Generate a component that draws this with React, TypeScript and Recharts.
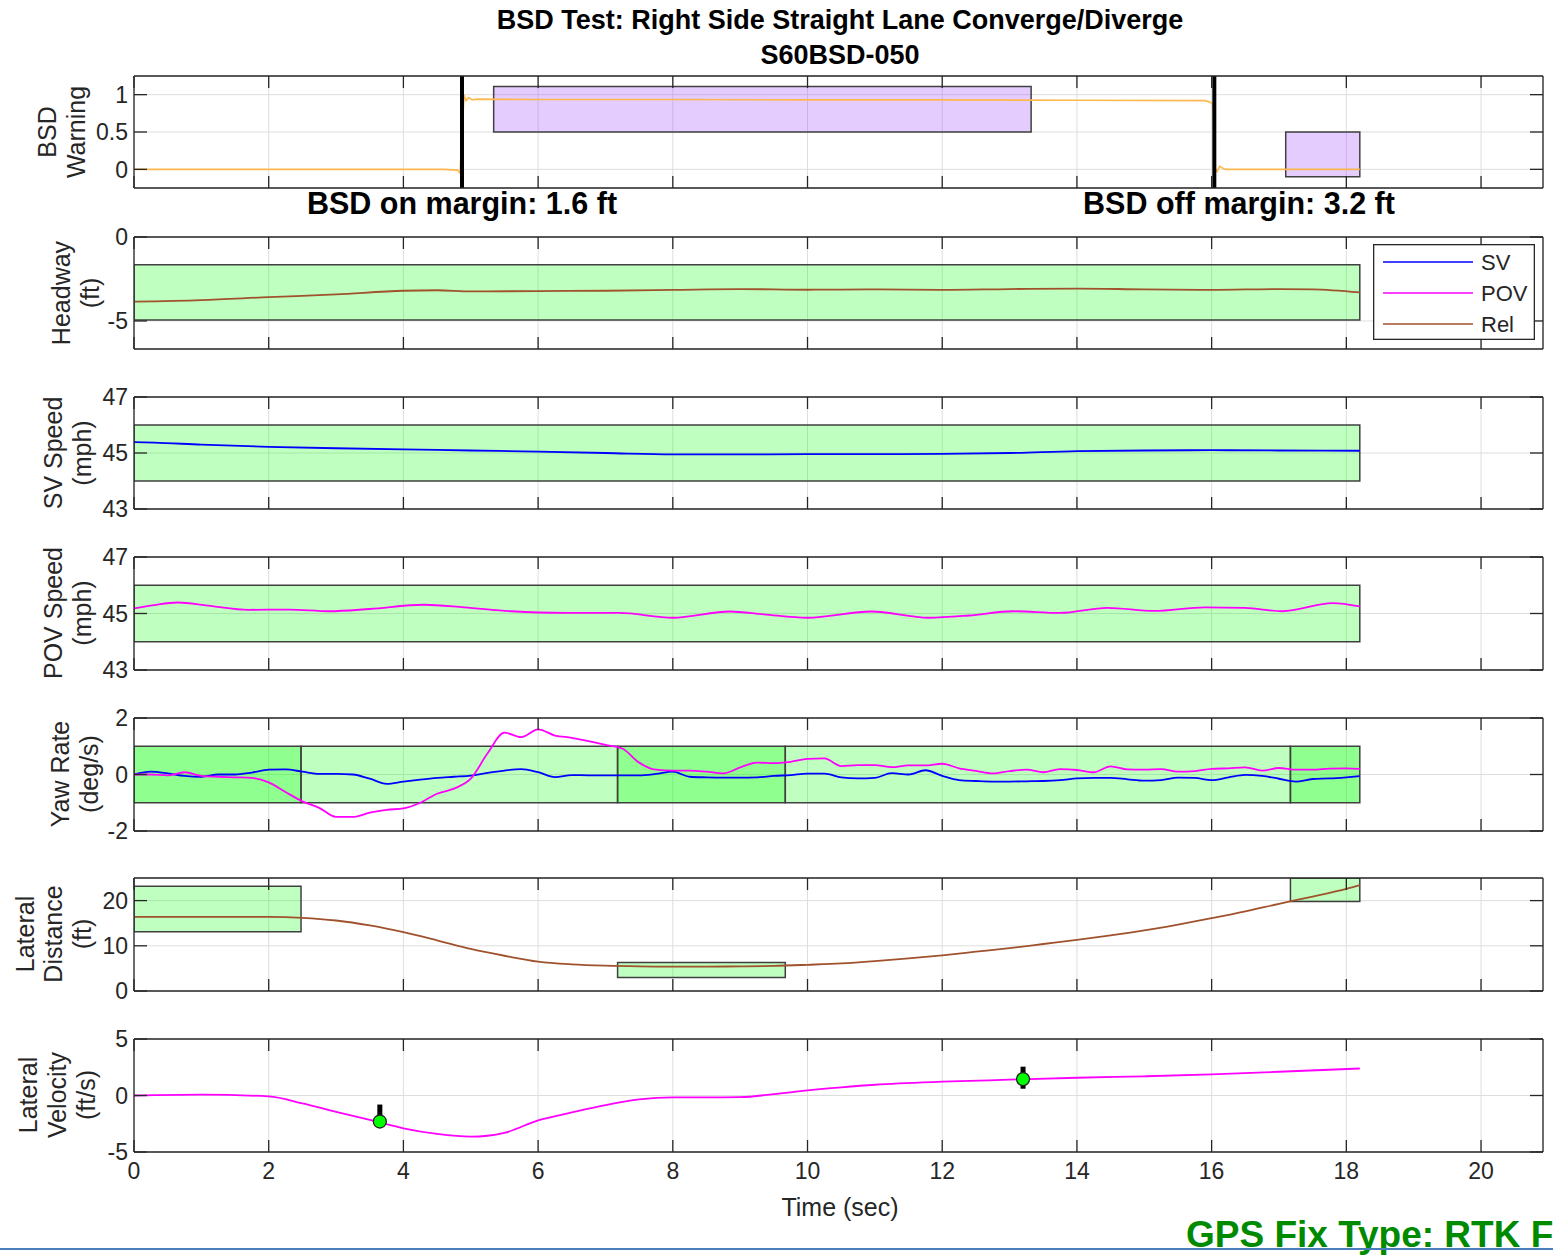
import React from 'react';
import {
  ComposedChart,
  Line,
  XAxis,
  YAxis,
  CartesianGrid,
  ReferenceArea,
  ReferenceLine,
  Scatter,
  ErrorBar,
  Legend,
} from 'recharts';

// ---------------- data ----------------
const xTicks = [0, 2, 4, 6, 8, 10, 12, 14, 16, 18, 20];

// BSD warning signal
const warnT = [0, 1, 2, 3, 4, 4.6, 4.8, 4.84, 4.87, 4.9, 4.93, 4.97, 5.02, 5.1, 6, 8, 10, 12, 14, 15.9, 15.98, 16.02, 16.05, 16.08, 16.12, 16.2, 17, 18.2];
const warnV = [0, 0, 0, 0, 0, 0, -0.01, -0.05, 0.45, 1.0, 0.92, 0.96, 0.93, 0.94, 0.935, 0.935, 0.93, 0.93, 0.925, 0.92, 0.9, 0.87, 0.02, -0.03, 0.04, 0.0, 0.0, 0.0];
const warnOnOff = [4.87, 16.04];
const warnBoxX1 = [5.34, 17.1];
const warnBoxX2 = [13.32, 18.2];
const warnBoxY1 = [0.5, -0.1];
const warnBoxY2 = [1.11, 0.5];

// Headway (Rel)
const headT = [0, 1, 2, 3, 4, 4.5, 5, 6, 7, 8, 9, 10, 11, 12, 13, 14, 15, 16, 17, 17.5, 18.2];
const headRel = [-3.85, -3.76, -3.58, -3.42, -3.2, -3.17, -3.24, -3.22, -3.2, -3.15, -3.1, -3.14, -3.12, -3.15, -3.1, -3.07, -3.12, -3.15, -3.1, -3.12, -3.3];
const headBox = { x1: 0, x2: 18.2, y1: -4.95, y2: -1.65 };

// SV speed
const svT = [0, 0.3, 1, 2, 3, 4, 5, 6, 7, 8, 9, 10, 11, 12, 13, 14, 15, 16, 17, 18.2];
const svSpd = [45.39, 45.37, 45.3, 45.22, 45.17, 45.13, 45.09, 45.05, 45.0, 44.95, 44.95, 44.96, 44.96, 44.97, 45.0, 45.07, 45.09, 45.1, 45.09, 45.08];
const svBox = { x1: 0, x2: 18.2, y1: 44, y2: 46 };

// POV speed
const povT = [0, 0.3, 0.65, 1.1, 1.7, 2.3, 2.9, 3.5, 4.3, 4.9, 5.6, 6.4, 7.2, 8.0, 8.85, 9.35, 10.0, 10.95, 11.8, 12.4, 13.05, 13.75, 14.45, 15.15, 15.9, 16.5, 17.05, 17.8, 18.2];
const povSpd = [45.18, 45.3, 45.39, 45.28, 45.13, 45.14, 45.08, 45.16, 45.31, 45.22, 45.08, 45.02, 45.02, 44.85, 45.07, 44.97, 44.85, 45.07, 44.85, 44.93, 45.08, 45.02, 45.2, 45.09, 45.22, 45.2, 45.08, 45.37, 45.25];
const povBox = { x1: 0, x2: 18.2, y1: 44, y2: 46 };

// Yaw rate
const yawT = [0, 0.25, 0.5, 0.75, 1, 1.25, 1.5, 1.75, 2, 2.25, 2.5, 2.75, 3, 3.25, 3.5, 3.75, 4, 4.25, 4.5, 4.75, 5, 5.25, 5.5, 5.75, 6, 6.25, 6.5, 6.75, 7, 7.25, 7.5, 7.75, 8, 8.25, 8.5, 8.75, 9, 9.25, 9.5, 9.75, 10, 10.25, 10.5, 10.75, 11, 11.25, 11.5, 11.75, 12, 12.25, 12.5, 12.75, 13, 13.25, 13.5, 13.75, 14, 14.25, 14.5, 14.75, 15, 15.25, 15.5, 15.75, 16, 16.25, 16.5, 16.75, 17, 17.25, 17.5, 17.75, 18, 18.2];
const yawSV = [0, 0.1, 0.04, -0.05, -0.08, 0, 0, 0.07, 0.17, 0.18, 0.1, 0.02, 0.02, 0, -0.15, -0.33, -0.25, -0.18, -0.12, -0.08, -0.04, 0.06, 0.14, 0.19, 0.08, -0.09, -0.02, -0.03, -0.03, -0.03, -0.03, 0.02, 0.1, -0.08, -0.1, -0.11, -0.11, -0.1, -0.05, -0.02, 0.03, 0.03, -0.1, -0.14, -0.12, 0.05, 0, 0.15, -0.05, -0.2, -0.23, -0.25, -0.25, -0.24, -0.23, -0.2, -0.14, -0.12, -0.12, -0.17, -0.22, -0.2, -0.11, -0.12, -0.2, -0.1, -0.01, -0.05, -0.15, -0.25, -0.16, -0.14, -0.1, -0.06];
const yawPOV = [0, 0, -0.03, 0.08, -0.05, -0.08, -0.1, -0.12, -0.28, -0.62, -0.95, -1.18, -1.5, -1.5, -1.35, -1.25, -1.2, -1.0, -0.68, -0.5, -0.15, 0.75, 1.48, 1.32, 1.6, 1.38, 1.3, 1.18, 1.05, 0.92, 0.42, 0.17, 0.14, 0.14, 0.1, 0.04, 0.25, 0.42, 0.4, 0.45, 0.55, 0.57, 0.3, 0.33, 0.33, 0.26, 0.32, 0.32, 0.38, 0.22, 0.13, 0.04, 0.12, 0.17, 0.08, 0.19, 0.16, 0.08, 0.29, 0.18, 0.17, 0.19, 0.1, 0.12, 0.2, 0.22, 0.25, 0.14, 0.23, 0.17, 0.17, 0.21, 0.22, 0.2];
const yawBoxX1 = [0, 2.48, 7.18, 9.67, 17.17];
const yawBoxX2 = [2.48, 7.18, 9.67, 17.17, 18.2];
const yawBoxDark = [true, false, true, false, true];

// Lateral distance
const latT = [0, 1, 2, 2.5, 3, 3.5, 4, 4.5, 5, 5.5, 6, 6.5, 7, 7.5, 8, 8.5, 9, 9.5, 10, 10.5, 11, 11.5, 12, 12.5, 13, 13.5, 14, 14.5, 15, 15.5, 16, 16.5, 17, 17.5, 18, 18.2];
const latDist = [16.4, 16.4, 16.4, 16.2, 15.6, 14.5, 13.0, 11.2, 9.3, 7.8, 6.5, 5.9, 5.6, 5.45, 5.4, 5.4, 5.45, 5.55, 5.8, 6.1, 6.6, 7.2, 7.9, 8.7, 9.5, 10.4, 11.3, 12.3, 13.4, 14.7, 16.1, 17.6, 19.3, 20.9, 22.6, 23.4];
const latBoxX1 = [0, 7.18, 17.17];
const latBoxX2 = [2.48, 9.67, 18.2];
const latBoxY1 = [13.1, 3.0, 19.8];
const latBoxY2 = [23.2, 6.3, 25];

// Lateral velocity
const lvT = [0, 1, 2, 2.5, 3, 3.5, 4, 4.5, 5, 5.5, 6, 6.5, 7, 7.5, 8, 8.5, 9, 9.5, 10, 10.5, 11, 12, 13, 14, 15, 16, 17, 18.2];
const lvV = [0, 0.08, -0.08, -0.7, -1.45, -2.15, -2.9, -3.4, -3.64, -3.3, -2.2, -1.5, -0.85, -0.35, -0.17, -0.17, -0.15, 0.12, 0.45, 0.72, 0.95, 1.22, 1.4, 1.57, 1.7, 1.87, 2.1, 2.39];
const markT = [3.65, 13.2];
const markV = [-2.3, 1.45];
const markErrLow = [0, 0.85];
const markErrHigh = [1.5, 1.1];

const legendNames = ['SV', 'POV', 'Rel'];

// ---------------- styles ----------------
const W = 1553;
const H = 1258;
const FONT = '"Liberation Sans", Arial, Helvetica, sans-serif';
const AX = '#262626';
const GRID = '#dedede';
const BLUE = '#0000FF';
const MAG = '#FF00FF';
const BROWN = '#A0522D';
const ORANGE = '#FFB84D';
const EDGE = '#404040';
const xDomain: [number, number] = [0, 20.92];
const HT = 20;
const TICK_FS = 23;
const LABEL_FS = 25;

const warnData = warnT.map((t, i) => ({ t, v: warnV[i] }));
const headData = headT.map((t, i) => ({ t, v: headRel[i] }));
const svData = svT.map((t, i) => ({ t, v: svSpd[i] }));
const povData = povT.map((t, i) => ({ t, v: povSpd[i] }));
const yawData = yawT.map((t, i) => ({ t, sv: yawSV[i], pov: yawPOV[i] }));
const latData = latT.map((t, i) => ({ t, v: latDist[i] }));
const lvData = lvT.map((t, i) => ({ t, v: lvV[i] }));
const markData = markT.map((t, i) => ({ t, v: markV[i], err: [markErrLow[i], markErrHigh[i]] }));

const bottomTick = (show: boolean) => (p: any) => (
  <g>
    <line x1={p.x} y1={p.y} x2={p.x} y2={p.y - 12} stroke={AX} strokeWidth={1.3} />
    {show && (
      <text x={p.x} y={p.y + 11} dy="0.71em" textAnchor="middle" fontSize={TICK_FS} fill={AX} fontFamily={FONT}>
        {p.payload.value}
      </text>
    )}
  </g>
);
const topTick = (p: any) => (
  <line x1={p.x} y1={p.y} x2={p.x} y2={p.y + 12} stroke={AX} strokeWidth={1.3} />
);
const leftTick = (p: any) => (
  <g>
    <line x1={p.x} y1={p.y} x2={p.x + 13} y2={p.y} stroke={AX} strokeWidth={1.3} />
    <text x={p.x - 6} y={p.y} dy="0.36em" textAnchor="end" fontSize={TICK_FS} fill={AX} fontFamily={FONT}>
      {String(p.payload.value)}
    </text>
  </g>
);
const rightTick = (p: any) => (
  <line x1={p.x} y1={p.y} x2={p.x - 13} y2={p.y} stroke={AX} strokeWidth={1.3} />
);

type PanelProps = {
  top: number;
  h: number;
  data: any[];
  yDomain: [number, number];
  yTicks: number[];
  showX?: boolean;
  children?: React.ReactNode;
};

function Panel({ top, h, data, yDomain, yTicks, showX, children }: PanelProps) {
  const hb = showX ? 60 : 20;
  const axisLine = { stroke: AX, strokeWidth: 1.3 };
  return (
    <div style={{ position: 'absolute', left: 0, top: top - HT }}>
      <ComposedChart width={W} height={HT + h + hb} data={data} margin={{ top: 0, right: 0, bottom: 0, left: 0 }}>
        <CartesianGrid stroke={GRID} strokeWidth={1} />
        <XAxis dataKey="t" type="number" domain={xDomain} ticks={xTicks} interval={0} allowDataOverflow height={hb}
          tickSize={0} tickMargin={0} axisLine={axisLine} tickLine={false} tick={bottomTick(!!showX)} />
        <XAxis xAxisId="top" orientation="top" dataKey="t" type="number" domain={xDomain} ticks={xTicks} interval={0}
          allowDataOverflow height={HT} tickSize={0} tickMargin={0} axisLine={axisLine} tickLine={false} tick={topTick} />
        <YAxis type="number" domain={yDomain} ticks={yTicks} interval={0} allowDataOverflow width={134}
          tickSize={0} tickMargin={0} axisLine={axisLine} tickLine={false} tick={leftTick} />
        <YAxis yAxisId="right" orientation="right" type="number" domain={yDomain} ticks={yTicks} interval={0}
          allowDataOverflow width={10} tickSize={0} tickMargin={0} axisLine={axisLine} tickLine={false} tick={rightTick} />
        {children}
      </ComposedChart>
    </div>
  );
}

const greenArea = (key: string, x1: number, x2: number, y1: number, y2: number, dark = false) => (
  <ReferenceArea key={key} x1={x1} x2={x2} y1={y1} y2={y2} fill="#00FF00" fillOpacity={dark ? 0.4375 : 0.25}
    stroke={EDGE} strokeWidth={1.5} ifOverflow="hidden" />
);

const legendContent = () => {
  const colors = [BLUE, MAG, BROWN];
  return (
    <svg width={162} height={96} style={{ display: 'block' }}>
      <rect x={0.65} y={0.65} width={160.7} height={94.7} fill="#fff" stroke={AX} strokeWidth={1.3} />
      {legendNames.map((n, i) => (
        <g key={n}>
          <line x1={10} x2={100} y1={18 + i * 31} y2={18 + i * 31} stroke={colors[i]} strokeWidth={1.6} />
          <text x={108} y={18 + i * 31} dy="0.36em" fontSize={22} fill={AX} fontFamily={FONT}>{n}</text>
        </g>
      ))}
    </svg>
  );
};

const markerShape = (p: any) => (
  <circle cx={p.cx} cy={p.cy} r={6.5} fill="#00FF00" stroke="#222" strokeWidth={1.3} />
);

const yLabels = [
  { lines: ['BSD', 'Warning'], xs: [47, 76], cy: 132 },
  { lines: ['Headway', '(ft)'], xs: [61, 90], cy: 293 },
  { lines: ['SV Speed', '(mph)'], xs: [53, 82], cy: 453 },
  { lines: ['POV Speed', '(mph)'], xs: [53, 82], cy: 613 },
  { lines: ['Yaw Rate', '(deg/s)'], xs: [60, 89], cy: 774 },
  { lines: ['Lateral', 'Distance', '(ft)'], xs: [25, 53, 82], cy: 934 },
  { lines: ['Lateral', 'Velocity', '(ft/s)'], xs: [28, 57, 86], cy: 1095 },
];

export default function App() {
  return (
    <div style={{ position: 'absolute', left: 0, top: 0, width: W, height: H, overflow: 'hidden', background: '#fff', fontFamily: FONT }}>
      {/* BSD warning */}
      <Panel top={76} h={112} data={warnData} yDomain={[-0.25, 1.25]} yTicks={[0, 0.5, 1]}>
        {warnBoxX1.map((x1, i) => (
          <ReferenceArea key={'wb' + i} x1={x1} x2={warnBoxX2[i]} y1={warnBoxY1[i]} y2={warnBoxY2[i]}
            fill="#9933FF" fillOpacity={0.25} stroke={EDGE} strokeWidth={1.5} ifOverflow="hidden" />
        ))}
        <Line dataKey="v" type="linear" stroke={ORANGE} strokeWidth={1.6} dot={false} isAnimationActive={false} />
        {warnOnOff.map((x, i) => (
          <ReferenceLine key={'wl' + i} x={x} stroke="#000" strokeWidth={4} />
        ))}
      </Panel>

      {/* Headway */}
      <Panel top={237} h={112} data={headData} yDomain={[-6.67, 0]} yTicks={[-5, 0]}>
        {greenArea('hb', headBox.x1, headBox.x2, headBox.y1, headBox.y2)}
        <Line dataKey="v" type="monotone" stroke={BROWN} strokeWidth={1.8} dot={false} isAnimationActive={false} />
        <Legend content={legendContent} layout="vertical" align="center" verticalAlign="middle"
          wrapperStyle={{ left: 1373, top: 27, width: 162, height: 96 }} />
      </Panel>

      {/* SV speed */}
      <Panel top={397} h={112} data={svData} yDomain={[43, 47]} yTicks={[43, 45, 47]}>
        {greenArea('sb', svBox.x1, svBox.x2, svBox.y1, svBox.y2)}
        <Line dataKey="v" type="monotone" stroke={BLUE} strokeWidth={1.8} dot={false} isAnimationActive={false} />
      </Panel>

      {/* POV speed */}
      <Panel top={557} h={113} data={povData} yDomain={[43, 47]} yTicks={[43, 45, 47]}>
        {greenArea('pb', povBox.x1, povBox.x2, povBox.y1, povBox.y2)}
        <Line dataKey="v" type="monotone" stroke={MAG} strokeWidth={1.8} dot={false} isAnimationActive={false} />
      </Panel>

      {/* Yaw rate */}
      <Panel top={718} h={113} data={yawData} yDomain={[-2, 2]} yTicks={[-2, 0, 2]}>
        {yawBoxX1.map((x1, i) => greenArea('yb' + i, x1, yawBoxX2[i], -1, 1, yawBoxDark[i]))}
        <Line dataKey="sv" type="monotone" stroke={BLUE} strokeWidth={1.8} dot={false} isAnimationActive={false} />
        <Line dataKey="pov" type="monotone" stroke={MAG} strokeWidth={1.8} dot={false} isAnimationActive={false} />
      </Panel>

      {/* Lateral distance */}
      <Panel top={878} h={113} data={latData} yDomain={[0, 25]} yTicks={[0, 10, 20]}>
        {latBoxX1.map((x1, i) => greenArea('lb' + i, x1, latBoxX2[i], latBoxY1[i], latBoxY2[i]))}
        <Line dataKey="v" type="monotone" stroke={BROWN} strokeWidth={1.8} dot={false} isAnimationActive={false} />
      </Panel>

      {/* Lateral velocity */}
      <Panel top={1039} h={113} data={lvData} yDomain={[-5, 5]} yTicks={[-5, 0, 5]} showX>
        <Line dataKey="v" type="monotone" stroke={MAG} strokeWidth={1.8} dot={false} isAnimationActive={false} />
        <Scatter data={markData} dataKey="v" isAnimationActive={false} shape={markerShape}>
          <ErrorBar dataKey="err" direction="y" width={0} stroke="#000" strokeWidth={5} isAnimationActive={false} />
        </Scatter>
      </Panel>

      {/* text overlay */}
      <svg width={W} height={H} style={{ position: 'absolute', left: 0, top: 0, pointerEvents: 'none' }} fontFamily={FONT}>
        <text x={840} y={29} textAnchor="middle" fontWeight="bold" fontSize={27} fill="#000">
          BSD Test: Right Side Straight Lane Converge/Diverge
        </text>
        <text x={840} y={64} textAnchor="middle" fontWeight="bold" fontSize={27} fill="#000">
          S60BSD-050
        </text>
        <text x={462} y={214} textAnchor="middle" fontWeight="bold" fontSize={30.5} fill="#000">
          BSD on margin: 1.6 ft
        </text>
        <text x={1239} y={214} textAnchor="middle" fontWeight="bold" fontSize={30.5} fill="#000">
          BSD off margin: 3.2 ft
        </text>
        {yLabels.map((lab, i) =>
          lab.lines.map((ln, j) => (
            <text key={i + '-' + j} x={lab.xs[j]} y={lab.cy} textAnchor="middle" dominantBaseline="central"
              fontSize={LABEL_FS} fill={AX} transform={`rotate(-90 ${lab.xs[j]} ${lab.cy})`}>
              {ln}
            </text>
          ))
        )}
        <text x={840} y={1216} textAnchor="middle" fontSize={LABEL_FS} fill={AX}>
          Time (sec)
        </text>
        <text x={1186} y={1247} textAnchor="start" fontWeight="bold" fontSize={37} fill="#008A00">
          GPS Fix Type: RTK F
        </text>
      </svg>
      <div style={{ position: 'absolute', left: 0, top: 1248, width: W, height: 2, background: '#4A7EBB' }} />
    </div>
  );
}
